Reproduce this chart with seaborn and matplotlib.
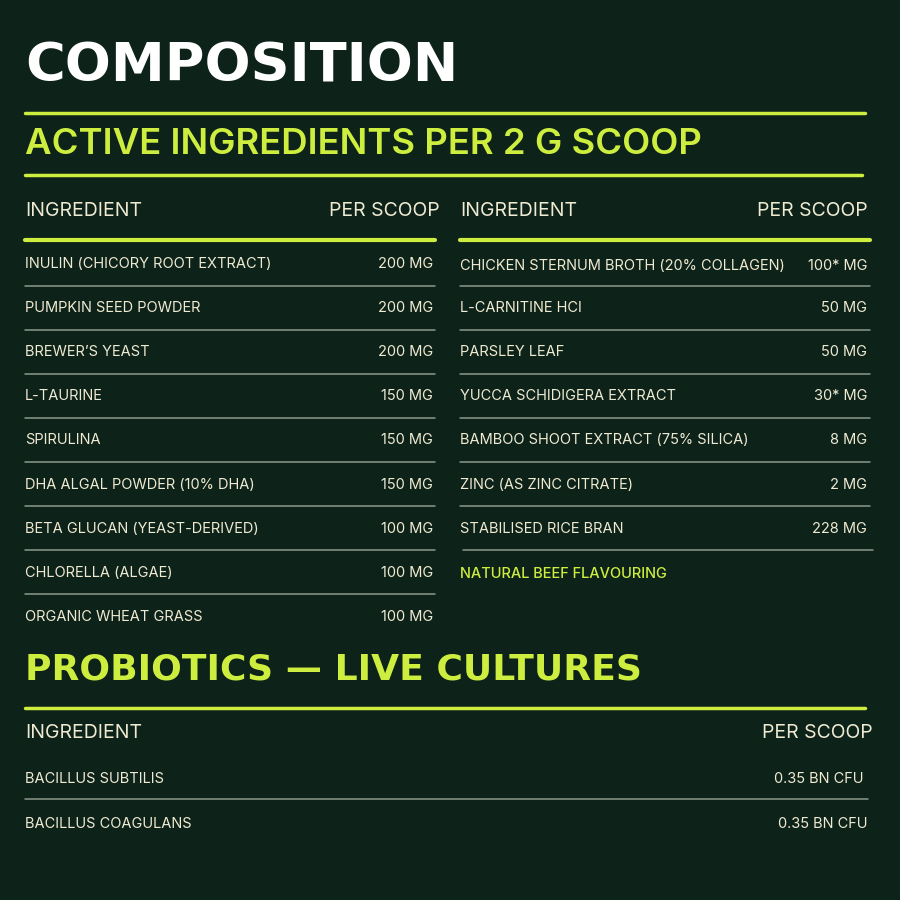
import seaborn as sns
import matplotlib.pyplot as plt

sns.set_theme(style='white')
plt.rcParams['font.family'] = ['Inter', 'DejaVu Sans']

BG = '#0d2219'
LIME = '#cdee3f'
CREAM = '#efead2'
GREY = '#8d9a8c'

# 데이터
left_names = ['INULIN (CHICORY ROOT EXTRACT)', 'PUMPKIN SEED POWDER', 'BREWER’S YEAST',
              'L-TAURINE', 'SPIRULINA', 'DHA ALGAL POWDER (10% DHA)',
              'BETA GLUCAN (YEAST-DERIVED)', 'CHLORELLA (ALGAE)', 'ORGANIC WHEAT GRASS']
left_amounts = ['200 MG', '200 MG', '200 MG', '150 MG', '150 MG', '150 MG',
                '100 MG', '100 MG', '100 MG']
right_names = ['CHICKEN STERNUM BROTH (20% COLLAGEN)', 'L-CARNITINE HCI', 'PARSLEY LEAF',
               'YUCCA SCHIDIGERA EXTRACT', 'BAMBOO SHOOT EXTRACT (75% SILICA)',
               'ZINC (AS ZINC CITRATE)', 'STABILISED RICE BRAN']
right_amounts = ['100* MG', '50 MG', '50 MG', '30* MG', '8 MG', '2 MG', '228 MG']
right_note = 'NATURAL BEEF FLAVOURING'
probio_names = ['BACILLUS SUBTILIS', 'BACILLUS COAGULANS']
probio_amounts = ['0.35 BN CFU', '0.35 BN CFU']

fig = plt.figure(figsize=(9, 9), dpi=100, facecolor=BG)
ax = fig.add_axes([0, 0, 1, 1])
ax.set_facecolor(BG)
ax.set_xlim(0, 900)
ax.set_ylim(900, 0)
ax.axis('off')

# 제목
ax.text(25, 67, 'COMPOSITION', color='white', fontsize=39, fontweight='bold',
        family=['DejaVu Sans'], va='center')
ax.plot([25, 865], [113, 113], color=LIME, lw=2.5)
ax.text(25, 145, 'ACTIVE INGREDIENTS PER 2 G SCOOP', color=LIME, fontsize=26.3,
        fontweight='semibold', va='center')
ax.plot([25, 862], [175, 175], color=LIME, lw=2.5)

# 표 헤더
for x0, x1 in [(25, 440), (460, 868)]:
    ax.text(x0, 211, 'INGREDIENT', color=CREAM, fontsize=14, va='center')
    ax.text(x1, 211, 'PER SCOOP', color=CREAM, fontsize=14, va='center', ha='right')
for x0, x1 in [(25, 435), (460, 870)]:
    ax.plot([x0, x1], [240, 240], color=LIME, lw=3)

row_y = [264 + 44 * i for i in range(9)]
for i, (n, a) in enumerate(zip(left_names, left_amounts)):
    y = row_y[i] + (1 if i >= 5 else 0)
    ax.text(25, y, n, color=CREAM, fontsize=10.5, va='center')
    ax.text(433, y, a, color=CREAM, fontsize=10.5, va='center', ha='right')
    if i < len(left_names) - 1:
        ax.plot([25, 435], [286 + 44 * i] * 2, color=GREY, lw=1.1)

for i, (n, a) in enumerate(zip(right_names, right_amounts)):
    y = row_y[i] + (2 if i == 0 else 0) + (1 if i >= 5 else 0)
    ax.text(460, y, n, color=CREAM, fontsize=10.5, va='center')
    ax.text(867, y, a, color=CREAM, fontsize=10.5, va='center', ha='right')
    if i < len(right_names) - 1:
        ax.plot([460, 870], [286 + 44 * i] * 2, color=GREY, lw=1.1)
ax.plot([463, 873], [550, 550], color=GREY, lw=1.1)
ax.text(460, 574, right_note, color=LIME, fontsize=10.5, va='center', fontweight='medium')

# 프로바이오틱스
ax.text(25, 669, 'PROBIOTICS — LIVE CULTURES', color=LIME, fontsize=26,
        fontweight='bold', family=['DejaVu Sans'], va='center')
ax.plot([25, 865], [708, 708], color=LIME, lw=2.5)
ax.text(25, 733, 'INGREDIENT', color=CREAM, fontsize=14, va='center')
ax.text(873, 733, 'PER SCOOP', color=CREAM, fontsize=14, va='center', ha='right')
for i, (n, a) in enumerate(zip(probio_names, probio_amounts)):
    y = 779 + 45 * i
    ax.text(25, y, n, color=CREAM, fontsize=10.5, va='center')
    ax.text(864 + 3 * i, y, a, color=CREAM, fontsize=10.5, va='center', ha='right')
ax.plot([25, 868], [799, 799], color=GREY, lw=1.1)

fig.savefig('out.png', dpi=100, facecolor=BG)
